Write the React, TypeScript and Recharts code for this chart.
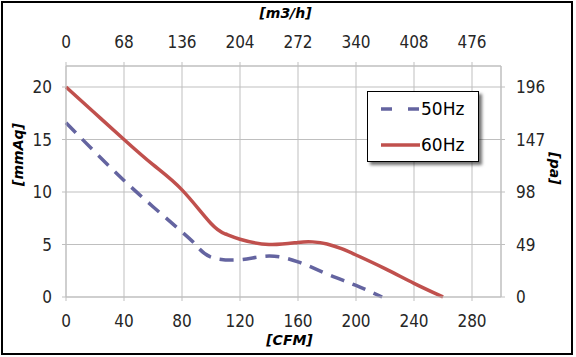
import { LineChart, Line, XAxis, YAxis, CartesianGrid, Label } from "recharts";

// 50Hz curve
const cfm50 = [0, 20, 40, 60, 80, 90, 100, 120, 140, 160, 180, 200, 218];
const mmAq50 = [16.6, 13.8, 11.1, 8.6, 6.2, 4.9, 3.8, 3.55, 3.9, 3.35, 2.2, 1.1, 0];

// 60Hz curve
const cfm60 = [0, 20, 40, 60, 80, 100, 110, 120, 140, 160, 170, 180, 190, 200, 220, 240, 260];
const mmAq60 = [20, 17.5, 15, 12.6, 10.2, 7.0, 6.0, 5.5, 5.0, 5.2, 5.25, 5.05, 4.6, 4.0, 2.7, 1.3, 0];

const seriesNames = ["50Hz", "60Hz"];
const cfmTicks = [0, 40, 80, 120, 160, 200, 240, 280];
const m3hTicks = [0, 68, 136, 204, 272, 340, 408, 476];
const mmAqTicks = [0, 5, 10, 15, 20];
const paTicks = [0, 49, 98, 147, 196];

const data50 = cfm50.map((x, i) => ({ cfm: x, mmAq: mmAq50[i] }));
const data60 = cfm60.map((x, i) => ({ cfm: x, mmAq: mmAq60[i] }));

const BLUE = "#6464a0";
const RED = "#c0504d";
const GRID = "#bfbfbf";
const tickFont = {
  fontFamily: "'Liberation Sans Narrow', 'DejaVu Sans Condensed', sans-serif",
  fontSize: 17,
  fill: "#262626",
};
const titleFont = {
  fontFamily: "'DejaVu Sans', sans-serif",
  fontSize: 14,
  fontWeight: "bold",
  fontStyle: "italic",
  fill: "#000",
};

function LegendBox() {
  const rows = [
    { name: seriesNames[0], color: BLUE, dash: "11 16" },
    { name: seriesNames[1], color: RED, dash: undefined },
  ];
  return (
    <div
      style={{
        position: "absolute",
        left: 367,
        top: 91,
        width: 112,
        height: 71,
        boxSizing: "border-box",
        border: "1px solid #000",
        background: "#fff",
        boxShadow: "3px 3px 3px rgba(0,0,0,0.55)",
        fontFamily: "'DejaVu Sans', sans-serif",
        fontSize: 17,
        color: "#000",
      }}
    >
      {rows.map((r, i) => (
        <div key={r.name} style={{ display: "flex", alignItems: "center", height: 18, marginTop: i === 0 ? 8 : 18 }}>
          <svg width={53} height={10}>
            <line x1={13} y1={5} x2={52} y2={5} stroke={r.color} strokeWidth={3.5} strokeDasharray={r.dash} />
          </svg>
          <span>{r.name}</span>
        </div>
      ))}
    </div>
  );
}

export default function App() {
  return (
    <div style={{ position: "absolute", left: 0, top: 0, width: 576, height: 357, background: "#fff" }}>
      <LineChart width={576} height={357} margin={{ top: 0, right: 0, bottom: 0, left: 0 }}>
        <CartesianGrid xAxisId="bottom" yAxisId="left" stroke={GRID} strokeWidth={1} />
        <XAxis
          xAxisId="bottom"
          dataKey="cfm"
          type="number"
          orientation="bottom"
          domain={[0, 300]}
          ticks={cfmTicks}
          height={60}
          tick={tickFont}
          tickSize={4}
          tickMargin={14}
          stroke={GRID}
        >
          <Label value="[CFM]" position="insideBottom" offset={12} dx={6} style={titleFont} />
        </XAxis>
        <XAxis
          xAxisId="top"
          dataKey="cfm"
          type="number"
          orientation="top"
          domain={[0, 510]}
          ticks={m3hTicks}
          height={66}
          tick={tickFont}
          tickSize={4}
          tickMargin={14}
          stroke={GRID}
        >
          <Label value="[m3/h]" position="insideTop" offset={8} dx={2} style={titleFont} />
        </XAxis>
        <YAxis
          yAxisId="left"
          type="number"
          orientation="left"
          domain={[0, 22]}
          ticks={mmAqTicks}
          width={66}
          tick={tickFont}
          tickSize={4}
          tickMargin={10}
          stroke={GRID}
        >
          <Label
            value="[mmAq]"
            angle={-90}
            position="insideLeft"
            offset={18}
            dy={-27}
            style={{ ...titleFont, textAnchor: "middle" }}
          />
        </YAxis>
        <YAxis
          yAxisId="right"
          type="number"
          orientation="right"
          domain={[0, 215.6]}
          ticks={paTicks}
          width={75}
          tick={tickFont}
          tickSize={4}
          tickMargin={11}
          stroke={GRID}
        >
          <Label
            value="[pa]"
            angle={90}
            position="insideRight"
            offset={21}
            dy={-13}
            style={{ ...titleFont, textAnchor: "middle" }}
          />
        </YAxis>
        {/* invisible carrier so the secondary (m3/h, pa) axes get drawn */}
        <Line
          xAxisId="top"
          yAxisId="right"
          data={data60}
          dataKey="mmAq"
          stroke="none"
          dot={false}
          activeDot={false}
          legendType="none"
          isAnimationActive={false}
        />
        <Line
          xAxisId="bottom"
          yAxisId="left"
          data={data50}
          dataKey="mmAq"
          name={seriesNames[0]}
          type="natural"
          stroke={BLUE}
          strokeWidth={3.5}
          strokeDasharray="14 9"
          dot={false}
          isAnimationActive={false}
        />
        <Line
          xAxisId="bottom"
          yAxisId="left"
          data={data60}
          dataKey="mmAq"
          name={seriesNames[1]}
          type="natural"
          stroke={RED}
          strokeWidth={3.5}
          dot={false}
          isAnimationActive={false}
        />
      </LineChart>
      <LegendBox />
      <div
        style={{
          position: "absolute",
          left: 1,
          top: 1,
          width: 572,
          height: 354,
          border: "2px solid #000",
          boxSizing: "border-box",
          pointerEvents: "none",
        }}
      />
    </div>
  );
}
